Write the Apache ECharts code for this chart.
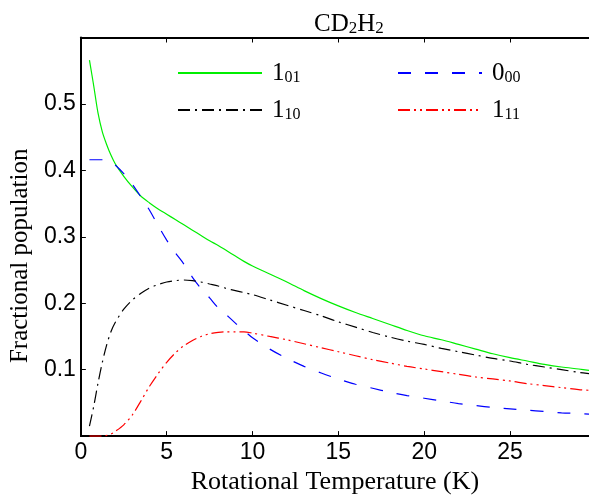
<!DOCTYPE html>
<html>
<head>
<meta charset="utf-8">
<script src="https://cdn.jsdelivr.net/npm/echarts@6/dist/echarts.min.js"></script>
<style>html,body{margin:0;padding:0;background:#fff;}#c{width:589px;height:500px;}</style>
</head>
<body>
<div id="c"></div>
<script>
// Rotational temperature (K)
const temps = [0.5,0.75,1,1.25,1.5,1.75,2,2.5,3,3.5,4,4.5,5,5.5,6,6.5,7,7.5,8,8.5,9,9.5,10,11,12,13,14,15,16,17,18,19,20,21,22,23,24,25,26,27,28,29,29.6];
// 1_01 (green, solid)
const pop101 = [0.566,0.527,0.486,0.458,0.439,0.423,0.410,0.391,0.375,0.361,0.351,0.342,0.334,0.326,0.318,0.310,0.302,0.294,0.287,0.279,0.271,0.263,0.256,0.244,0.232,0.219,0.207,0.196,0.186,0.177,0.168,0.159,0.151,0.145,0.138,0.131,0.124,0.118,0.113,0.108,0.104,0.101,0.099];
// 0_00 (blue, dashed)
const pop000 = [0.416,0.416,0.416,0.416,0.415,0.413,0.408,0.395,0.379,0.360,0.340,0.317,0.295,0.276,0.259,0.239,0.222,0.208,0.193,0.182,0.170,0.159,0.148,0.131,0.117,0.105,0.095,0.086,0.078,0.072,0.066,0.061,0.057,0.053,0.049,0.046,0.043,0.041,0.039,0.037,0.035,0.034,0.033];
// 1_10 (black, dash-dot)
const pop110 = [0.015,0.045,0.080,0.111,0.137,0.157,0.171,0.191,0.205,0.215,0.223,0.228,0.232,0.234,0.235,0.234,0.232,0.229,0.226,0.222,0.219,0.216,0.213,0.205,0.197,0.189,0.181,0.172,0.164,0.156,0.149,0.143,0.138,0.132,0.127,0.122,0.117,0.113,0.108,0.104,0.100,0.096,0.094];
// 1_11 (red, dash-dot-dot)
const pop111 = [0,0,0,0,0.001,0.003,0.007,0.017,0.032,0.053,0.075,0.094,0.111,0.125,0.136,0.144,0.150,0.154,0.156,0.157,0.157,0.157,0.155,0.150,0.145,0.139,0.133,0.127,0.121,0.115,0.110,0.105,0.101,0.097,0.093,0.089,0.086,0.083,0.079,0.076,0.073,0.070,0.069];
const xTicks = [0,5,10,15,20,25];
const yTicks = [0.1,0.2,0.3,0.4,0.5];
const seriesNames = ['{m|1}{s|01}','{m|0}{s|00}','{m|1}{s|10}','{m|1}{s|11}'];

const SERIF = 'Liberation Serif';
const SANS = 'Liberation Sans';
const pair = (arr) => temps.map((t, i) => [t, arr[i]]);
const richLeg = {
  m: {fontFamily: SERIF, fontSize: 25, color: '#000', lineHeight: 26, verticalAlign: 'bottom'},
  s: {fontFamily: SERIF, fontSize: 16, color: '#000', lineHeight: 26, verticalAlign: 'bottom'}
};
function legendFor(name, left, top) {
  return {
    data: [name], left: left, top: top, padding: 0, itemWidth: 84, itemHeight: 14, itemGap: 0,
    selectedMode: false,
    itemStyle: {opacity: 0},
    formatter: (n) => n,
    textStyle: {rich: richLeg, padding: [0, 0, 0, 5]}
  };
}
function axisX(pos) {
  return {
    type: 'value', min: 0, max: 29.6, interval: 5, position: pos,
    axisLine: {show: true, lineStyle: {color: '#000', width: 2}},
    axisTick: {show: true, inside: true, length: 5, lineStyle: {color: '#000', width: 1}},
    axisLabel: {show: pos === 'bottom', color: '#000', fontFamily: SANS, fontSize: 23, margin: 5, showMaxLabel: false,
      formatter: (v) => xTicks.indexOf(v) >= 0 ? String(v) : ''},
    splitLine: {show: false},
    name: pos === 'bottom' ? 'Rotational Temperature (K)' : '',
    nameLocation: 'middle', nameGap: 31,
    nameTextStyle: {fontFamily: SERIF, fontSize: 26, color: '#000'}
  };
}
const chart = echarts.init(document.getElementById('c'), null, {renderer: 'canvas'});
chart.setOption({
  animation: false,
  backgroundColor: '#fff',
  title: {
    text: '{n|CD}{s|2}{n|H}{s|2}', left: 309, top: 6,
    textStyle: {fontWeight: 'normal', rich: {
      n: {fontFamily: SERIF, fontSize: 25, fontWeight: 'normal', color: '#000', lineHeight: 26, verticalAlign: 'bottom'},
      s: {fontFamily: SERIF, fontSize: 17, fontWeight: 'normal', color: '#000', lineHeight: 26, verticalAlign: 'bottom'}
    }}
  },
  grid: {left: 77.5, right: 0, top: 37.5, bottom: 53.3, containLabel: false},
  legend: [
    legendFor(seriesNames[0], 177, 61),
    legendFor(seriesNames[1], 397, 61),
    legendFor(seriesNames[2], 177, 98),
    legendFor(seriesNames[3], 397, 98)
  ],
  xAxis: [axisX('bottom'), axisX('top')],
  yAxis: [{
    type: 'value', min: 0, max: 0.6, interval: 0.1,
    axisLine: {show: true, lineStyle: {color: '#000', width: 2}},
    axisTick: {show: true, inside: true, length: 5, lineStyle: {color: '#000', width: 1}},
    axisLabel: {color: '#000', fontFamily: SANS, fontSize: 23, margin: 5,
      formatter: (v) => { const r = Math.round(v * 10) / 10; return yTicks.indexOf(r) >= 0 ? r.toFixed(1) : ''; }},
    splitLine: {show: false},
    name: 'Fractional population', nameLocation: 'middle', nameGap: 42, nameRotate: 90,
    nameTextStyle: {fontFamily: SERIF, fontSize: 25, color: '#000', padding: [0, 38, 0, 0]}
  }],
  series: [
    {name: seriesNames[0], type: 'line', data: pair(pop101), symbol: 'none', smooth: 0.3, color: '#00ee00',
      lineStyle: {color: '#00ee00', width: 1.2, type: 'solid'}},
    {name: seriesNames[1], type: 'line', data: pair(pop000), symbol: 'none', smooth: 0.3, color: '#0000ff',
      lineStyle: {color: '#0000ff', width: 1.2, type: [13, 14]}},
    {name: seriesNames[2], type: 'line', data: pair(pop110), symbol: 'none', smooth: 0.3, color: '#000',
      lineStyle: {color: '#000', width: 1.2, type: [12, 5, 2, 5]}},
    {name: seriesNames[3], type: 'line', data: pair(pop111), symbol: 'none', smooth: 0.3, color: '#ff0000',
      lineStyle: {color: '#ff0000', width: 1.2, type: [12, 4, 2, 4, 2, 4]}}
  ]
});
</script>
</body>
</html>
